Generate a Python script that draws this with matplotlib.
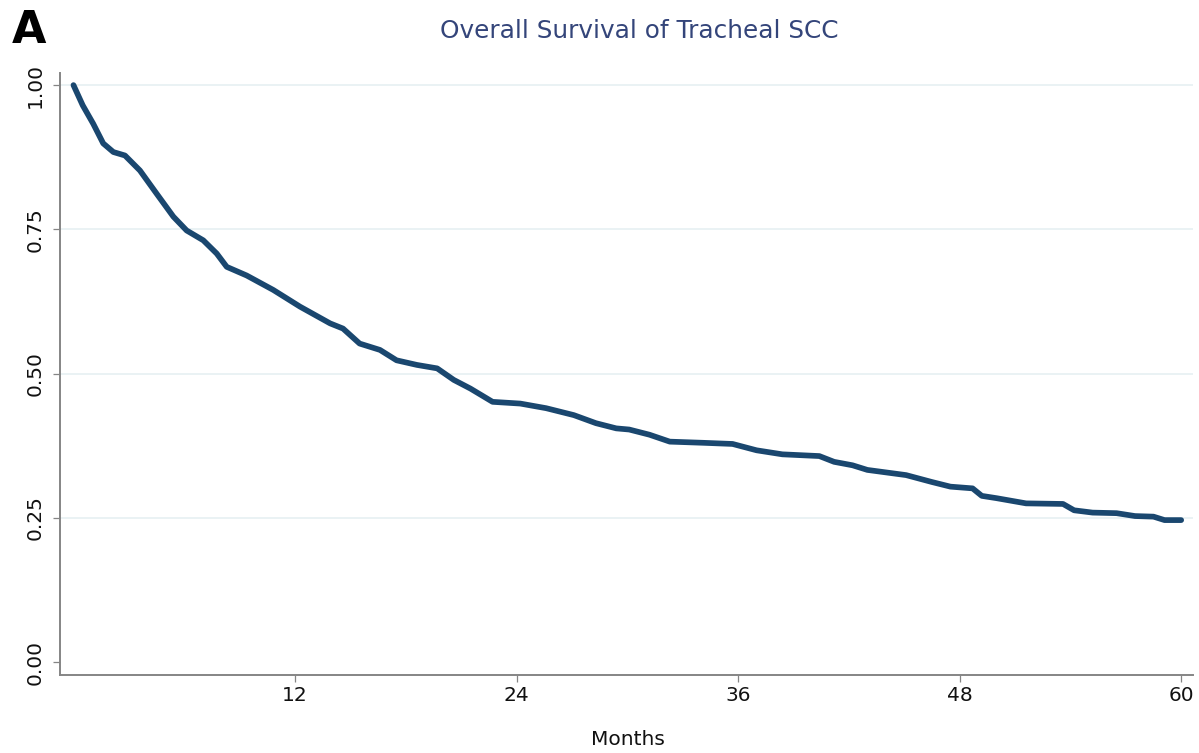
# Kaplan-Meier style overall survival curve (Stata look)
import numpy as np
import matplotlib
matplotlib.use("Agg")
import matplotlib.pyplot as plt

# Values
months = [0.0, 0.5, 1.07, 1.61, 2.16, 2.79, 3.6, 4.5, 5.41, 6.13, 7.03,
          7.76, 8.3, 9.38, 10.82, 12.27, 13.9, 14.6, 15.5, 16.6, 17.5,
          18.6, 19.7, 20.6, 21.5, 22.7, 24.2, 25.6, 27.1, 28.3, 29.4,
          30.1, 31.2, 32.3, 34.1, 35.7, 37.0, 38.4, 40.4, 41.2, 42.2,
          43.0, 45.1, 46.5, 47.5, 48.7, 49.2, 50.0, 51.6, 53.6, 54.2,
          55.2, 56.5, 57.5, 58.5, 59.1, 60.0]
survival = [1.000, 0.965, 0.933, 0.899, 0.884, 0.878, 0.852, 0.812, 0.772,
            0.748, 0.731, 0.708, 0.685, 0.670, 0.645, 0.616, 0.587, 0.578,
            0.552, 0.541, 0.523, 0.515, 0.509, 0.489, 0.474, 0.451, 0.448,
            0.440, 0.428, 0.414, 0.405, 0.403, 0.394, 0.382, 0.380, 0.378,
            0.367, 0.360, 0.357, 0.347, 0.341, 0.333, 0.324, 0.312, 0.304,
            0.301, 0.288, 0.284, 0.275, 0.274, 0.263, 0.259, 0.258, 0.253,
            0.252, 0.246, 0.246]

xticks = [12, 24, 36, 48, 60]
yticks = [0.00, 0.25, 0.50, 0.75, 1.00]
ytick_labels = ["0.00", "0.25", "0.50", "0.75", "1.00"]

plt.rcParams['font.family'] = ['DejaVu Sans']

W, H = 1199, 753
fig = plt.figure(figsize=(W/100, H/100), dpi=100)
ax = fig.add_axes([60/W, 78/H, 1133/W, 602/H])

ax.plot(months, survival, color='#1a476f', lw=4.1,
        solid_capstyle='round', solid_joinstyle='round', zorder=3)

ax.set_xlim(-0.73, 60.64)
ax.set_ylim(-0.0225, 1.021)

ax.set_xticks(xticks)
ax.set_yticks(yticks)
ax.set_yticklabels(ytick_labels)
plt.setp(ax.get_yticklabels(), rotation=90, va='center')

ax.grid(axis='y', color='#e6f0f2', lw=1.2, zorder=0)
ax.yaxis.get_gridlines()[0].set_visible(False)

for side in ['top', 'right']:
    ax.spines[side].set_visible(False)
for side in ['left', 'bottom']:
    ax.spines[side].set_color('#858585')
    ax.spines[side].set_linewidth(1.4)

ax.tick_params(axis='both', length=5, width=0.9, color='#858585',
               labelsize=14.5, labelcolor='#111111')
ax.tick_params(axis='y', pad=6)
ax.tick_params(axis='x', pad=3)

fig.text(639/W, 1 - 38/H, 'Overall Survival of Tracheal SCC',
         ha='center', va='baseline', fontsize=17.8, color='#34457a')
fig.text(628/W, 1 - 745/H, 'Months', ha='center', va='baseline',
         fontsize=14.5, color='#111111')
fig.text(12/W, 1 - 43/H, 'A', ha='left', va='baseline',
         fontsize=32, fontweight='bold', color='black')

fig.savefig('out.png', dpi=100)
